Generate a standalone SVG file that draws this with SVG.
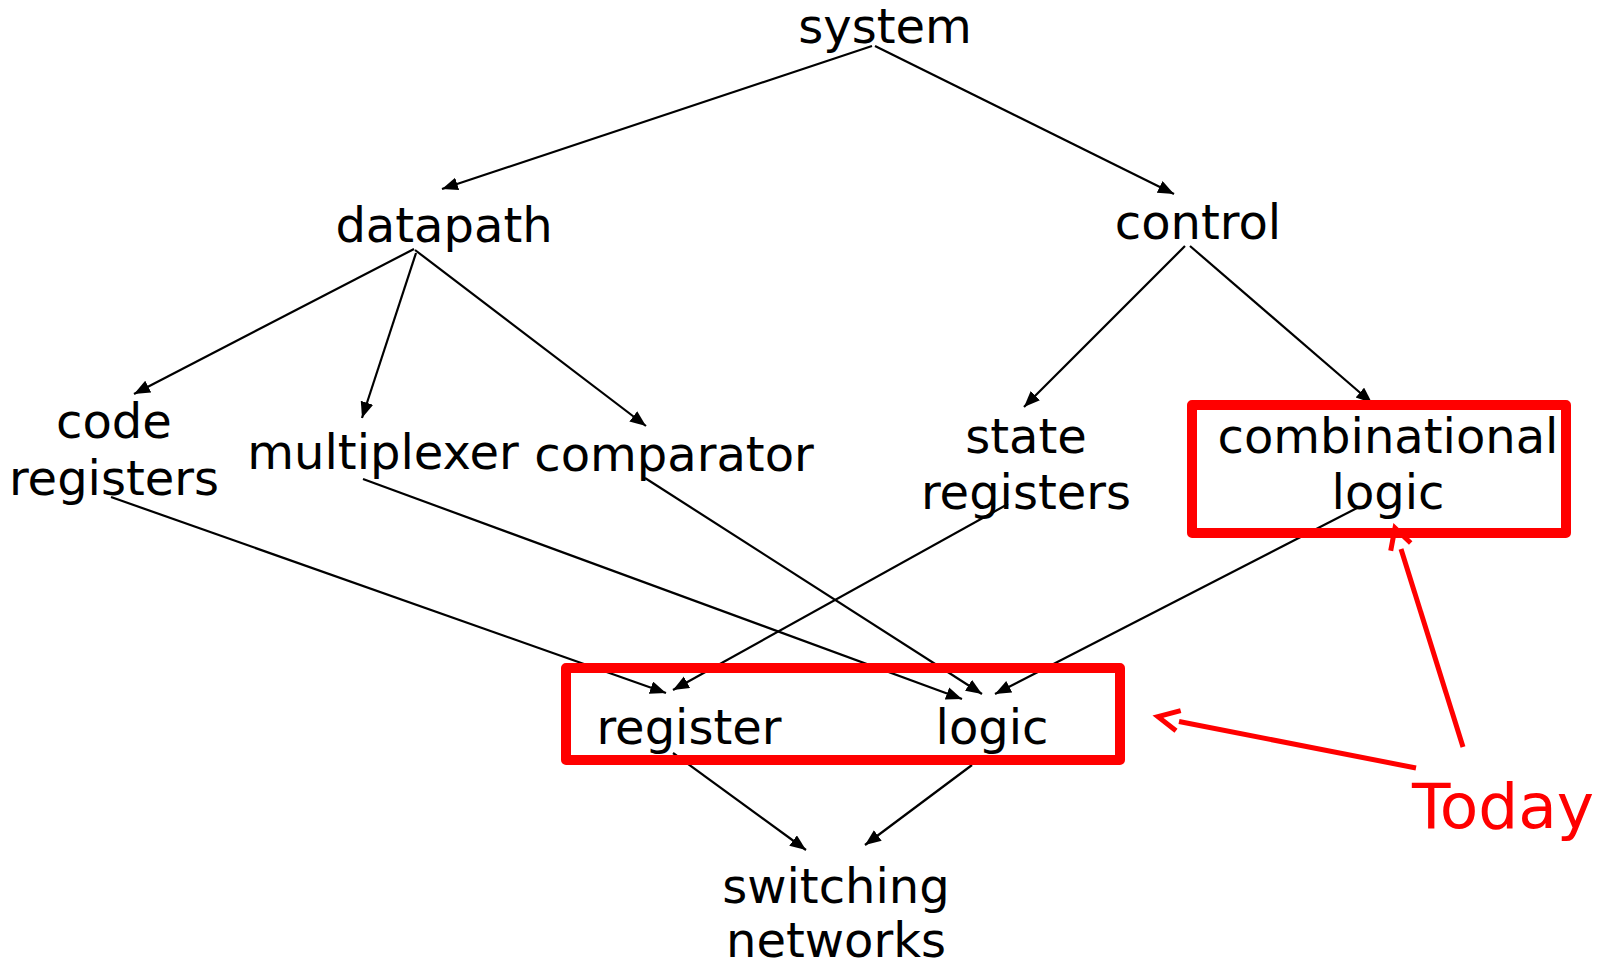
<svg xmlns="http://www.w3.org/2000/svg" width="1605" height="965" viewBox="0 0 1605 965">
<style>
.t{font-family:"DejaVu Sans","Liberation Sans",sans-serif;font-size:48px;fill:#000;text-anchor:middle}
.today{font-family:"DejaVu Sans","Liberation Sans",sans-serif;font-size:63px;fill:#ff0000;text-anchor:middle}
.c{stroke:#000;stroke-width:2.2;fill:none;marker-end:url(#ah)}
.box{fill:none;stroke:#ff0000;stroke-width:10;stroke-linejoin:round}
.r{stroke:#ff0000;stroke-width:5;fill:none}
</style>
<defs>
<marker id="ah" markerUnits="userSpaceOnUse" markerWidth="17" markerHeight="14" refX="16" refY="6.5" orient="auto">
<path d="M0,0 L16,6.5 L0,13 z" fill="#000"/>
</marker>
</defs>
<rect width="1605" height="965" fill="#fff"/>
<g id="connectors">
<line class="c" x1="872" y1="46" x2="442" y2="189"/>
<line class="c" x1="875" y1="46" x2="1174" y2="194"/>
<line class="c" x1="414" y1="249" x2="134" y2="394"/>
<line class="c" x1="416" y1="253" x2="362" y2="418"/>
<line class="c" x1="415" y1="250" x2="646" y2="426"/>
<line class="c" x1="1185" y1="246" x2="1024" y2="407"/>
<line class="c" x1="1190" y1="246" x2="1372" y2="403"/>
<line class="c" x1="111" y1="497" x2="666" y2="693"/>
<line class="c" x1="363" y1="479" x2="962" y2="699"/>
<line class="c" x1="645" y1="478" x2="982" y2="694"/>
<line class="c" x1="1008" y1="504" x2="673" y2="690"/>
<line class="c" x1="1359" y1="507" x2="995" y2="694"/>
<line class="c" x1="673" y1="753" x2="806" y2="850"/>
<line class="c" x1="972" y1="765" x2="865" y2="845"/>
</g>
<g id="system"><text class="t" x="885" y="43">system</text></g>
<g id="datapath"><text class="t" x="444" y="242">datapath</text></g>
<g id="control"><text class="t" x="1198" y="239">control</text></g>
<g id="code-registers"><text class="t" x="114" y="438">code</text><text class="t" x="114" y="495">registers</text></g>
<g id="multiplexer"><text class="t" x="383" y="469">multiplexer</text></g>
<g id="comparator"><text class="t" x="674" y="471">comparator</text></g>
<g id="state-registers"><text class="t" x="1026" y="453">state</text><text class="t" x="1026" y="509">registers</text></g>
<g id="combinational-logic"><rect class="box" x="1192" y="405" width="374" height="128"/><text class="t" x="1388" y="453">combinational</text><text class="t" x="1388" y="509">logic</text></g>
<g id="register-logic"><rect class="box" x="566" y="668" width="554" height="92"/><text class="t" x="689" y="744">register</text><text class="t" x="992" y="744">logic</text></g>
<g id="switching-networks"><text class="t" x="836" y="903">switching</text><text class="t" x="836" y="957">networks</text></g>
<g id="today"><text class="today" x="1503" y="828">Today</text>
<line class="r" x1="1463" y1="747" x2="1401" y2="549"/>
<polyline class="r" points="1390.7,550.7 1395,528 1410.7,543"/>
<line class="r" x1="1416" y1="768" x2="1179" y2="721.5"/>
<polyline class="r" points="1180.7,710.7 1158,716.7 1176,730.7"/>
</g>
</svg>
